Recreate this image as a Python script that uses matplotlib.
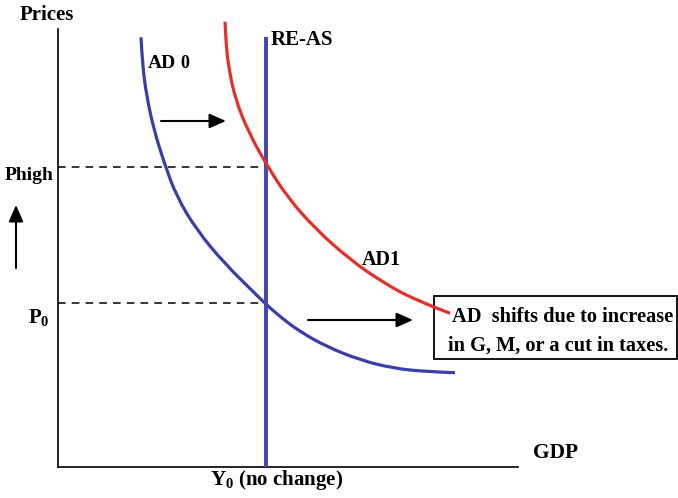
import matplotlib.pyplot as plt
from matplotlib.patches import Rectangle, PathPatch
from matplotlib.path import Path

# curve points (x = output, y = price level)
ad0_x = [83, 84.3, 88.7, 96, 106.3, 118.7, 138.7, 166.3, 200.3, 207, 222, 242, 268.7, 302, 335.3, 368.7, 397]
ad0_y = [429.7, 403.7, 370.3, 337, 303.7, 270.3, 237, 203.7, 170.3, 163.7, 150.3, 135.3, 120.3, 107, 98.7, 95.3, 94.3]
ad1_x = [167, 168, 170.3, 177, 190.3, 208.7, 230.3, 257, 290.3, 323.7, 357, 392]
ad1_y = [445.3, 424, 402, 368.7, 335.3, 302, 268.7, 238.7, 208.7, 185.3, 167, 153.7]

y0 = 208
re_as_top = 430
p_high = 300
p0 = 164

plt.rcParams["font.family"] = ["Liberation Serif", "DejaVu Serif"]
plt.rcParams["font.weight"] = "bold"
plt.rcParams["mathtext.fontset"] = "custom"
plt.rcParams["mathtext.rm"] = "Liberation Serif:bold"
plt.rcParams["mathtext.it"] = "Liberation Serif:bold"
plt.rcParams["mathtext.bf"] = "Liberation Serif:bold"

blue = "#3a3ea8"
red = "#e4302a"


def smooth_path(xs, ys):
    # quadratic bezier pieces through the midpoints, so the read points don't show as kinks
    verts = [(xs[0], ys[0])]
    codes = [Path.MOVETO]
    n = len(xs)
    for i in range(1, n - 1):
        if i < n - 2:
            end = ((xs[i] + xs[i + 1]) / 2, (ys[i] + ys[i + 1]) / 2)
        else:
            end = (xs[-1], ys[-1])
        verts += [(xs[i], ys[i]), end]
        codes += [Path.CURVE3, Path.CURVE3]
    return Path(verts, codes)


fig = plt.figure(figsize=(6.78, 4.98), dpi=100)
ax = fig.add_axes([58 / 678, 31 / 498, 460 / 678, 438 / 498])
ax.set_xlim(0, 460)
ax.set_ylim(0, 438)
for side in ["top", "right"]:
    ax.spines[side].set_visible(False)
for side in ["left", "bottom"]:
    ax.spines[side].set_linewidth(1.2)
ax.set_xticks([])
ax.set_yticks([])

# dashed price guides
ax.plot([0, y0], [p_high, p_high], color="black", lw=1.1, ls=(0, (5, 4)))
ax.plot([0, y0], [p0, p0], color="black", lw=1.1, ls=(0, (5, 4)))

# curves
ax.add_patch(PathPatch(smooth_path(ad0_x, ad0_y), fill=False, edgecolor=blue, lw=2.3,
                       capstyle="butt", clip_on=False, zorder=2))
ax.add_patch(PathPatch(smooth_path(ad1_x, ad1_y), fill=False, edgecolor=red, lw=2.3,
                       capstyle="butt", clip_on=False, zorder=4))
ax.plot([y0, y0], [0, re_as_top], color="#4046b0", lw=2.8, solid_capstyle="butt", zorder=3)

# arrows
arrow = dict(arrowstyle="-|>,head_length=0.5,head_width=0.22", color="black",
             lw=1.5, mutation_scale=20, shrinkA=0, shrinkB=0)
ax.annotate("", xy=(168, 346), xytext=(103, 346), arrowprops=arrow)
ax.annotate("", xy=(355, 147), xytext=(250, 147), arrowprops=arrow)
ax.annotate("", xy=(-42, 262), xytext=(-42, 199), arrowprops=arrow, annotation_clip=False)

# note box
ax.add_patch(Rectangle((376, 108), 243, 63, fill=False, edgecolor="black", lw=1.3, clip_on=False, zorder=2))
ax.text(394, 145, "AD  shifts due to increase", fontsize=14.7, va="baseline", clip_on=False)
ax.text(390, 116, "in G, M, or a cut in taxes.", fontsize=14.7, va="baseline", clip_on=False)

# labels
ax.text(-38, 447, "Prices", fontsize=15, va="baseline", clip_on=False)
ax.text(213, 422, "RE-AS", fontsize=15, va="baseline")
ax.text(90, 399, "AD", fontsize=14, va="baseline")
ax.text(122, 399, "0", fontsize=13, va="baseline")
ax.text(304, 202, "AD1", fontsize=14.5, va="baseline")
ax.text(-53, 287, "Phigh", fontsize=14, va="baseline", clip_on=False)
ax.text(-30, 144, r"P$_0$", fontsize=15, va="baseline", clip_on=False)
ax.text(475, 9, "GDP", fontsize=15.5, va="baseline", clip_on=False)
ax.text(152, -18, r"Y$_0$ (no change)", fontsize=15, va="baseline", clip_on=False)

fig.savefig("out.png", dpi=100)
